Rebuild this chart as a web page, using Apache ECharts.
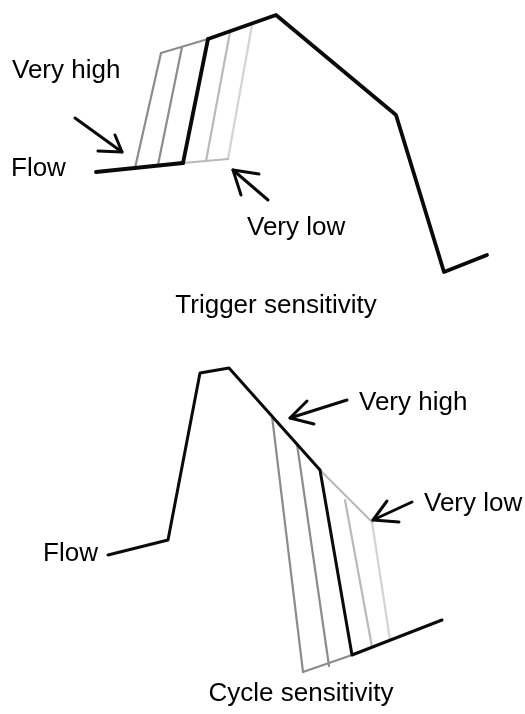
<!DOCTYPE html>
<html>
<head>
<meta charset="utf-8">
<script src="https://cdn.jsdelivr.net/npm/echarts@6/dist/echarts.min.js"></script>
<style>
  html, body { margin: 0; padding: 0; background: #ffffff; }
  #chart { width: 525px; height: 714px; }
</style>
</head>
<body>
<div id="chart"></div>
<script>
// ---- Diagram data (points in diagram units) ----
// Trigger sensitivity panel
const trigBase      = [[96, 172], [183, 163]];
const trigBaseLow   = [[183, 163], [228, 159]];
const trigRise1     = [[135, 168], [161, 53]];
const trigRise2     = [[158, 165], [182, 47]];
const trigRise3     = [[183, 163], [208, 39]];
const trigRise4     = [[206, 161], [230, 32]];
const trigRise5     = [[228, 159], [252, 25]];
const trigTopHigh   = [[161, 53], [208, 39]];
const trigMain      = [[208, 39], [276, 15], [396, 115], [444, 272], [487, 255]];

// Cycle sensitivity panel
const cycMain       = [[108, 555], [168, 540], [200, 373], [229, 368], [320, 470], [352, 655], [442, 620]];
const cycFall1      = [[272, 416], [303, 672]];
const cycFall2      = [[297, 444], [329, 666]];
const cycFall4      = [[345, 500], [372, 647]];
const cycFall5      = [[372, 522], [390, 640]];
const cycBaseHigh   = [[303, 672], [352, 655]];
const cycTopLow     = [[320, 470], [372, 522]];

// Arrows: shaft and head (tip in the middle of the head)
const arrowTrigHighShaft = [[75, 118], [122, 152]];
const arrowTrigHighHead  = [[98, 151], [122, 152], [115, 135]];
const arrowTrigLowShaft  = [[268, 200], [233, 170]];
const arrowTrigLowHead   = [[259, 174], [233, 170], [241, 195]];
const arrowCycHighShaft  = [[347, 400], [290, 418]];
const arrowCycHighHead   = [[307, 401], [290, 418], [314, 424]];
const arrowCycLowShaft   = [[412, 502], [373, 520]];
const arrowCycLowHead    = [[387, 501], [373, 520], [399, 522]];

// Text labels
const labelTexts   = ['Very high', 'Flow', 'Very low', 'Trigger sensitivity', 'Very high', 'Very low', 'Flow', 'Cycle sensitivity'];
const labelAnchors = [[12, 71], [11, 169], [247, 228], [276, 306], [359, 403], [424, 504], [98, 554], [301, 694]];
const labelAligns  = ['left', 'left', 'left', 'center', 'left', 'left', 'right', 'center'];

// ---- Styles ----
const BLACK = '#0a0a0a';
const GREY = '#8c8c8c';
const LIGHT = '#bababa';
const LIGHTER = '#d4d4d4';

function lineSeries(data, color, width) {
  return {
    type: 'line',
    data: data,
    symbol: 'none',
    showSymbol: false,
    silent: true,
    z: color === BLACK ? 3 : 2,
    lineStyle: { color: color, width: width, cap: 'round', join: 'round', opacity: 1 }
  };
}

const series = [
  lineSeries(trigRise1, GREY, 2.2),
  lineSeries(trigRise2, GREY, 2.2),
  lineSeries(trigRise4, LIGHT, 2.2),
  lineSeries(trigRise5, LIGHTER, 2.2),
  lineSeries(trigTopHigh, GREY, 2.2),
  lineSeries(trigBaseLow, LIGHT, 2.2),
  lineSeries(trigBase, BLACK, 3.8),
  lineSeries(trigRise3, BLACK, 3.8),
  lineSeries(trigMain, BLACK, 3.8),

  lineSeries(cycFall1, GREY, 2.2),
  lineSeries(cycFall2, GREY, 2.2),
  lineSeries(cycFall4, LIGHT, 2.2),
  lineSeries(cycFall5, LIGHTER, 2.2),
  lineSeries(cycBaseHigh, GREY, 2.2),
  lineSeries(cycTopLow, LIGHT, 2.2),
  lineSeries(cycMain, BLACK, 3),

  lineSeries(arrowTrigHighShaft, BLACK, 3),
  lineSeries(arrowTrigHighHead, BLACK, 3),
  lineSeries(arrowTrigLowShaft, BLACK, 3),
  lineSeries(arrowTrigLowHead, BLACK, 3),
  lineSeries(arrowCycHighShaft, BLACK, 3),
  lineSeries(arrowCycHighHead, BLACK, 3),
  lineSeries(arrowCycLowShaft, BLACK, 3),
  lineSeries(arrowCycLowHead, BLACK, 3),

  {
    type: 'scatter',
    silent: true,
    symbolSize: 0,
    z: 5,
    itemStyle: { opacity: 1 },
    data: labelTexts.map((t, i) => ({
      name: t,
      value: labelAnchors[i],
      label: {
        show: true,
        position: 'inside',
        formatter: '{b}',
        align: labelAligns[i],
        verticalAlign: 'middle',
        color: '#000000',
        opacity: 1,
        textBorderWidth: 0,
        fontFamily: 'Liberation Sans, Arial, sans-serif',
        fontSize: 26
      }
    }))
  }
];

const chart = echarts.init(document.getElementById('chart'), null, { renderer: 'canvas' });
chart.setOption({
  animation: false,
  backgroundColor: '#ffffff',
  grid: { left: 0, right: 0, top: 0, bottom: 0 },
  xAxis: { type: 'value', min: 0, max: 525, show: false },
  yAxis: { type: 'value', min: 0, max: 714, inverse: true, show: false },
  series: series
});
</script>
</body>
</html>
